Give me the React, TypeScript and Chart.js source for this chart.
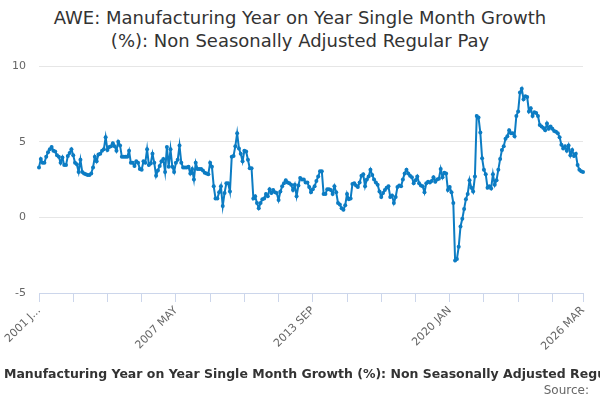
import { useEffect, useRef } from 'react'
import { Chart, registerables } from 'chart.js'

Chart.register(...registerables)

const months = ['JAN', 'FEB', 'MAR', 'APR', 'MAY', 'JUN', 'JUL', 'AUG', 'SEP', 'OCT', 'NOV', 'DEC']
const firstYear = 2001
const lastYear = 2026
const lastMonth = 3

const labels: string[] = []
for (let y = firstYear; y <= lastYear; y++) {
  for (let m = 0; m < 12; m++) {
    if (y === lastYear && m >= lastMonth) break
    labels.push(`${y} ${months[m]}`)
  }
}

// monthly values, 2001 JAN .. 2026 MAR
const growth = [
  3.3, 3.85, 3.6, 3.6, 4.0, 4.3, 4.5, 4.65, 4.4, 4.35,
  4.1, 4.0, 3.6, 3.95, 3.45, 3.45, 4.05, 4.25, 4.5, 4.1,
  3.6, 3.5, 3.0, 3.8, 3.0, 2.9, 2.85, 2.8, 2.8, 2.9,
  3.3, 4.0, 3.7, 4.15, 4.2, 4.4, 4.5, 5.3, 4.45, 4.65,
  4.7, 4.9, 4.7, 4.4, 5.0, 4.75, 4.0, 4.0, 4.0, 4.0,
  4.4, 3.6, 3.6, 3.4, 3.7, 3.6, 3.2, 3.15, 3.7, 3.6,
  4.5, 3.45, 3.55, 4.2, 3.6, 2.75, 3.1, 3.4, 3.7, 3.85,
  3.0, 4.65, 3.35, 4.5, 3.35, 3.0, 3.6, 3.8, 4.75, 3.6,
  3.3, 3.3, 3.3, 3.35, 2.9, 3.2, 2.5, 3.6, 3.2, 3.2,
  3.2, 3.1, 2.95, 2.9, 2.85, 3.6, 3.35, 2.05, 1.25, 1.25,
  1.65, 2.05, 0.75, 1.6, 2.25, 2.25, 1.7, 4.0, 4.05, 4.7,
  5.55, 4.55, 4.2, 3.7, 4.4, 4.35, 3.8, 3.25, 3.25, 1.25,
  1.4, 0.95, 0.6, 0.95, 1.2, 1.25, 1.55, 1.4, 1.85, 1.6,
  1.8, 1.65, 1.6, 1.15, 1.7, 2.05, 2.25, 2.45, 2.3, 2.25,
  2.15, 1.8, 2.15, 1.4, 2.1, 2.6, 2.5, 2.5, 2.3, 2.3,
  2.0, 1.65, 1.85, 2.05, 2.4, 2.7, 3.05, 3.05, 1.55, 1.55,
  1.85, 1.85, 1.8, 1.55, 2.05, 1.65, 0.95, 0.85, 0.6, 0.5,
  0.8, 1.55, 1.2, 1.25, 2.2, 2.25, 2.1, 2.0, 2.3, 2.75,
  2.85, 2.05, 2.5, 2.7, 3.15, 2.8, 2.5, 2.3, 2.15, 1.7,
  1.35, 1.6, 1.8, 1.95, 2.05, 1.35, 1.45, 0.95, 1.35, 2.0,
  2.1,
  2.05, 2.5, 2.9, 3.15, 2.9, 2.75, 2.65, 2.25, 2.45, 2.7,
  2.25, 2.1, 2.05, 1.65, 2.25, 2.35, 2.3, 2.4, 2.65, 2.35,
  2.5, 2.55, 3.2, 2.65, 2.95, 2.9, 1.8, 2.0, 1.65, 0.95,
  -2.85, -2.75, -1.95, -0.6, -0.1, 0.55, 1.2, 1.55, 2.45, 1.95,
  1.7, 2.7, 6.7, 6.6, 5.6, 3.9, 3.15, 2.85, 1.95, 2.05,
  1.9, 2.85, 2.15, 2.45, 3.15, 3.85, 4.45, 4.7, 5.2, 5.35,
  5.75, 5.55, 5.55, 5.35, 6.7, 7.0, 8.25, 8.5, 7.8, 8.0,
  7.95, 7.0, 7.2, 6.7, 6.95, 6.9, 6.7, 6.1, 6.0, 5.9,
  5.75, 6.2, 5.85, 6.0, 5.85, 5.7, 5.65, 5.55, 5.3, 4.8,
  4.55, 4.7, 4.4, 4.75, 4.1, 4.45, 4.05, 4.2, 3.45, 3.15,
  3.05, 3.0
]

const tickStep = 19
const labelStep = 76
const yMin = -5
const yMax = 10
const yStep = 5

const lineColor = '#0c7cc3'
const font = 'DejaVu Sans'

export default function App() {
  const chartRef = useRef<HTMLCanvasElement>(null)

  useEffect(() => {
    if (!chartRef.current) return
    const existing = Chart.getChart(chartRef.current)
    if (existing) existing.destroy()

    const last = labels.length - 1

    const chart = new Chart(chartRef.current, {
      type: 'line',
      data: {
        labels,
        datasets: [{
          data: growth,
          borderColor: lineColor,
          backgroundColor: lineColor,
          borderWidth: 2,
          pointRadius: 2,
          pointBorderWidth: 0,
          pointBackgroundColor: lineColor,
          tension: 0
        }]
      },
      options: {
        responsive: true,
        maintainAspectRatio: false,
        animation: false,
        layout: { padding: { top: 66, right: 17, left: 0, bottom: 0 } },
        plugins: { legend: { display: false }, title: { display: false }, tooltip: { enabled: false } },
        scales: {
          x: {
            type: 'category',
            afterBuildTicks: (scale: any) => {
              scale.ticks = scale.ticks.filter((t: any) => t.value % tickStep === 0 || t.value === last)
            },
            afterFit: (scale: any) => { scale.height = 107 },
            grid: { drawOnChartArea: false, drawTicks: true, tickLength: 9, color: '#ccd6eb' },
            border: { display: true, color: '#ccd6eb' },
            ticks: {
              autoSkip: false,
              minRotation: 45,
              maxRotation: 45,
              padding: 2,
              color: '#666666',
              font: { family: font, size: 11 },
              callback: (value: any) => {
                const v = Number(value)
                if (v === 0) return labels[0].slice(0, 6) + '...'
                if (v % labelStep === 0 || v === last) return labels[v]
                return ''
              }
            }
          },
          y: {
            min: yMin,
            max: yMax,
            afterFit: (scale: any) => { scale.width = 39 },
            grid: { color: '#e6e6e6', drawTicks: false },
            border: { display: false },
            ticks: { stepSize: yStep, padding: 13, color: '#666666', font: { family: font, size: 11 } }
          }
        }
      }
    })

    return () => { chart.destroy() }
  }, [])

  return (
    <div style={{ position: 'absolute', left: 0, top: 0, width: 600, height: 400, overflow: 'hidden', background: '#fff', fontFamily: font }}>
      <div style={{ position: 'absolute', top: 6, left: 0, width: 600, textAlign: 'center', fontSize: 18, lineHeight: '23px', color: '#333333' }}>
        AWE: Manufacturing Year on Year Single Month Growth<br />(%): Non Seasonally Adjusted Regular Pay
      </div>
      <canvas ref={chartRef} style={{ position: 'absolute', left: 0, top: 0 }} width={600} height={400} />
      <div style={{ position: 'absolute', top: 366, left: 4, whiteSpace: 'nowrap', fontSize: 12.5, lineHeight: '16px', fontWeight: 'bold', color: '#333333' }}>
        Manufacturing Year on Year Single Month Growth (%): Non Seasonally Adjusted Regular Pay
      </div>
      <div style={{ position: 'absolute', top: 383, right: 11, fontSize: 12, lineHeight: '15px', color: '#666666' }}>Source:</div>
    </div>
  )
}
